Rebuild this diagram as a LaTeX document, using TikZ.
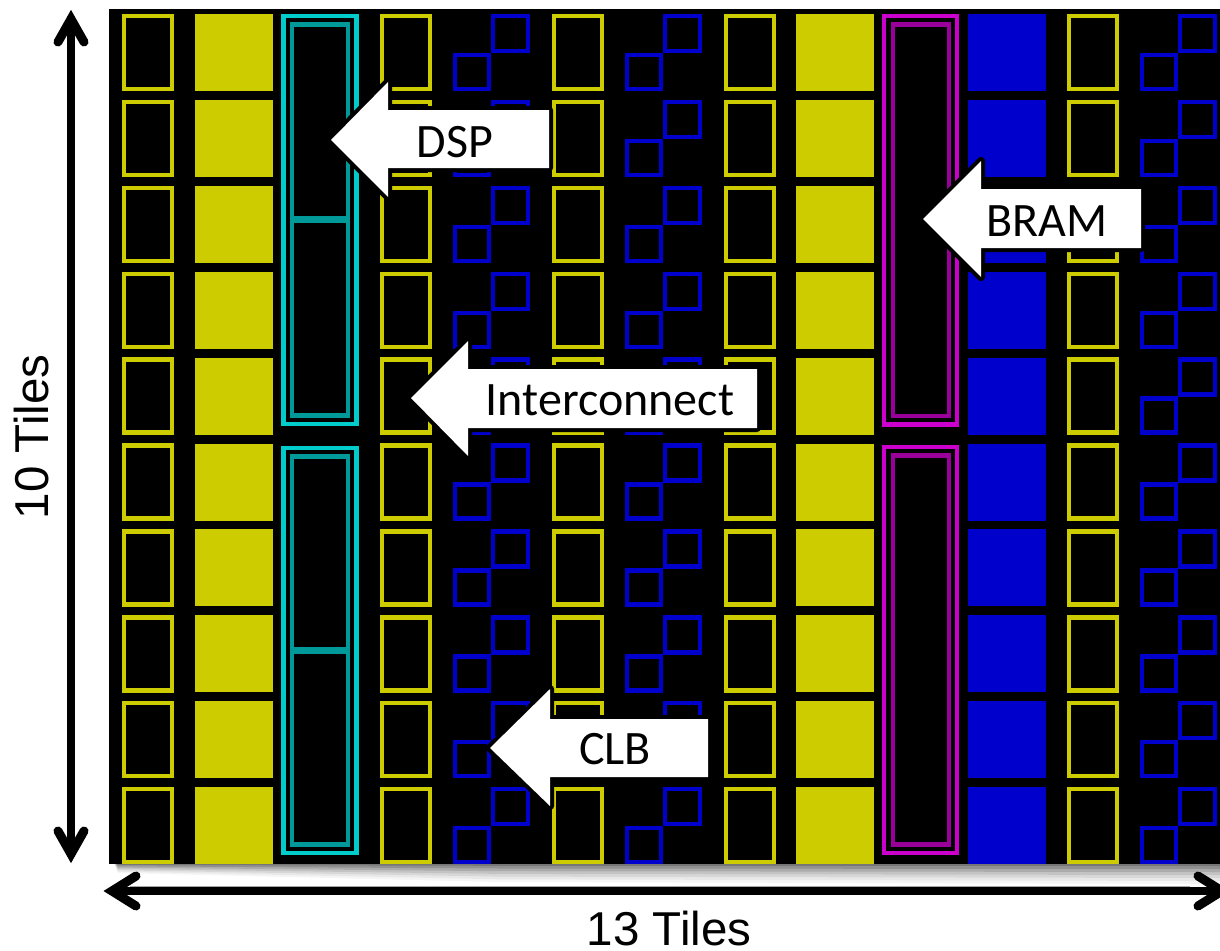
\documentclass[tikz,border=0pt]{standalone}
\usepackage{fontspec}
\setmainfont{Liberation Sans}
\newfontfamily\calloutfont{Carlito}
\definecolor{ylw}{HTML}{CCCC00}
\definecolor{blu}{HTML}{0000CC}
\definecolor{cyn}{HTML}{00CCCC}
\definecolor{tel}{HTML}{009999}
\definecolor{mgn}{HTML}{CC00CC}
\definecolor{pur}{HTML}{990099}
\tikzset{
  outlinebox/.style={draw=ylw,line width=4.4pt,fill=black},
  solidyellow/.style={fill=ylw},
  solidblue/.style={fill=blu},
  clbbox/.style={draw=blu,line width=4.4pt},
  calloutarrow/.style={preaction={draw=black,line width=8pt,line join=round},fill=white},
  calloutlabel/.style={font=\calloutfont\fontsize{48}{48}\selectfont,inner sep=0pt,text=black,anchor=center},
  dimlabel/.style={font=\fontsize{47.5}{48}\selectfont,inner sep=0pt,text=black,anchor=center},
  dimline/.style={line width=8pt,black},
  dimhead/.style={line width=9pt,black,line cap=round,line join=miter},
}
\begin{document}
\begin{tikzpicture}[x=1pt,y=-1pt]
\useasboundingbox (0,0) rectangle (1220,950);
\fill[white] (0,0) rectangle (1220,950);
% soft shadow, widening to the right
\foreach \k/\o in {1/.04,.85/.05,.7/.07,.55/.09,.4/.12,.25/.15,.1/.18}
  \fill[black,opacity=\o] (113,860) -- (1220,860) -- (1220,864+20*\k) -- (500,864+18*\k) -- (118,864+9*\k) -- cycle;
\fill[black] (109,9) rectangle (1220,864);
% rows of tiles
\foreach \r in {0,...,9}{
  \pgfmathsetmacro{\t}{14+85.9*\r}
  \pgfmathsetmacro{\b}{\t+77}
  \foreach \c in {122,380,552,724,1067}
    \draw[outlinebox] (\c+2,\t+2) rectangle (\c+50,\b-2);
  \foreach \c in {195,796}
    \fill[solidyellow] (\c,\t) rectangle (\c+78,\b);
  \fill[solidblue] (968,\t) rectangle (1045.5,\b);
  \foreach \c in {453,625,1140}{
    \draw[clbbox] (\c+2,\t+41) rectangle (\c+36,\b-2);
    \draw[clbbox] (\c+40,\t+2) rectangle (\c+75,\t+37);
  }
}
% DSP
\foreach \t/\b/\m in {16/424/219.5,448/853/650}{
  \fill[black] (283,\t) rectangle (357,\b);
  \draw[cyn,line width=4.4pt] (283.5,\t) rectangle (356.5,\b);
  \draw[tel,line width=4.4pt] (292,\t+8.5) rectangle (348,\b-8.5);
  \draw[tel,line width=7pt] (292,\m) -- (348,\m);
}
% BRAM
\foreach \t/\b in {16/424.5,447/853}{
  \fill[black] (884,\t) rectangle (957,\b);
  \draw[mgn,line width=4.4pt] (884,\t) rectangle (957,\b);
  \draw[pur,line width=4.4pt] (893,\t+8.5) rectangle (949,\b-8.5);
}
% callouts
\path[calloutarrow] (331,140) -- (388,82) -- (388,110) -- (549,110) -- (549,168) -- (388,168) -- (388,197) -- cycle;
\node[calloutlabel] (dsp) at (455,142) {DSP};
\path[calloutarrow] (923,219) -- (981,161) -- (981,189) -- (1141,189) -- (1141,248) -- (981,248) -- (981,277) -- cycle;
\node[calloutlabel] (bram) at (1047,221) {BRAM};
\path[calloutarrow] (411,398) -- (468,341) -- (468,369) -- (757,369) -- (757,428) -- (468,428) -- (468,456) -- cycle;
\node[calloutlabel] (inter) at (610,400) {Interconnect};
\path[calloutarrow] (490,748) -- (550,689) -- (550,719) -- (708,719) -- (708,777) -- (550,777) -- (550,806) -- cycle;
\node[calloutlabel] (clb) at (615,749) {CLB};
% dimensions
\coordinate (vt) at (71,19);
\coordinate (vb) at (71,854);
\coordinate (hl) at (112,891);
\coordinate (hr) at (1222,891);
\draw[dimline] (vt) -- (vb);
\draw[dimhead] (58,42) -- (vt) -- (84,42);
\draw[dimhead] (58,831) -- (vb) -- (84,831);
\draw[black!35,line width=1pt] (130,886.5) -- (1190,886.5);
\draw[dimline] (hl) -- (hr);
\draw[dimhead] (136,876) -- (hl) -- (136,906);
\draw[dimhead] (1198,876) -- (hr) -- (1198,906);
\node[dimlabel] (ten) at (32,437) [rotate=90] {10 Tiles};
\node[dimlabel] (thirteen) at (669,928.5) {13 Tiles};
\end{tikzpicture}
\end{document}
